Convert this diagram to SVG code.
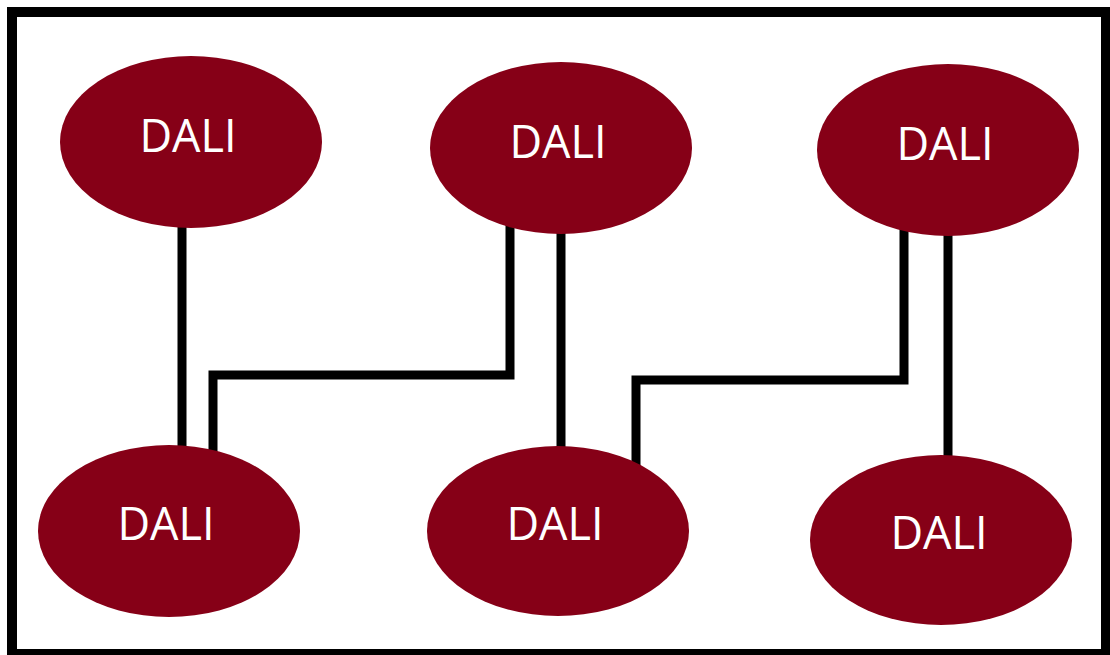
<svg xmlns="http://www.w3.org/2000/svg" width="1110" height="655" viewBox="0 0 1110 655">
  <style>
    .node ellipse { fill: #860017; }
    .node text { fill: #ffffff; font-family: "Open Sans", "Noto Sans", "Liberation Sans", sans-serif; font-size: 45px; text-anchor: middle; }
    .wire { fill: none; stroke: #000000; stroke-width: 9; stroke-linejoin: miter; stroke-linecap: butt; }
  </style>
  <rect x="0" y="0" width="1110" height="655" fill="#ffffff"/>
  <!-- outer frame -->
  <rect x="12" y="12" width="1094" height="642" fill="none" stroke="#000000" stroke-width="10"/>

  <g id="connectors">
    <line class="wire" x1="182" y1="222" x2="182" y2="452"/>
    <polyline class="wire" points="213,452 213,375 510,375 510,222"/>
    <line class="wire" x1="561" y1="228" x2="561" y2="452"/>
    <polyline class="wire" points="636,468 636,380 904,380 904,226"/>
    <line class="wire" x1="948" y1="230" x2="948" y2="460"/>
  </g>

  <g id="node-top-left" class="node">
    <ellipse cx="191" cy="142" rx="131" ry="86"/>
    <text x="188" y="152">DALI</text>
  </g>
  <g id="node-top-middle" class="node">
    <ellipse cx="561" cy="148" rx="131" ry="86"/>
    <text x="558" y="158">DALI</text>
  </g>
  <g id="node-top-right" class="node">
    <ellipse cx="948" cy="150" rx="131" ry="86"/>
    <text x="945" y="160">DALI</text>
  </g>
  <g id="node-bottom-left" class="node">
    <ellipse cx="169" cy="531" rx="131" ry="86"/>
    <text x="166" y="540">DALI</text>
  </g>
  <g id="node-bottom-middle" class="node">
    <ellipse cx="558" cy="531" rx="131" ry="85"/>
    <text x="555" y="540">DALI</text>
  </g>
  <g id="node-bottom-right" class="node">
    <ellipse cx="941" cy="540" rx="131" ry="85"/>
    <text x="939" y="549">DALI</text>
  </g>
</svg>
